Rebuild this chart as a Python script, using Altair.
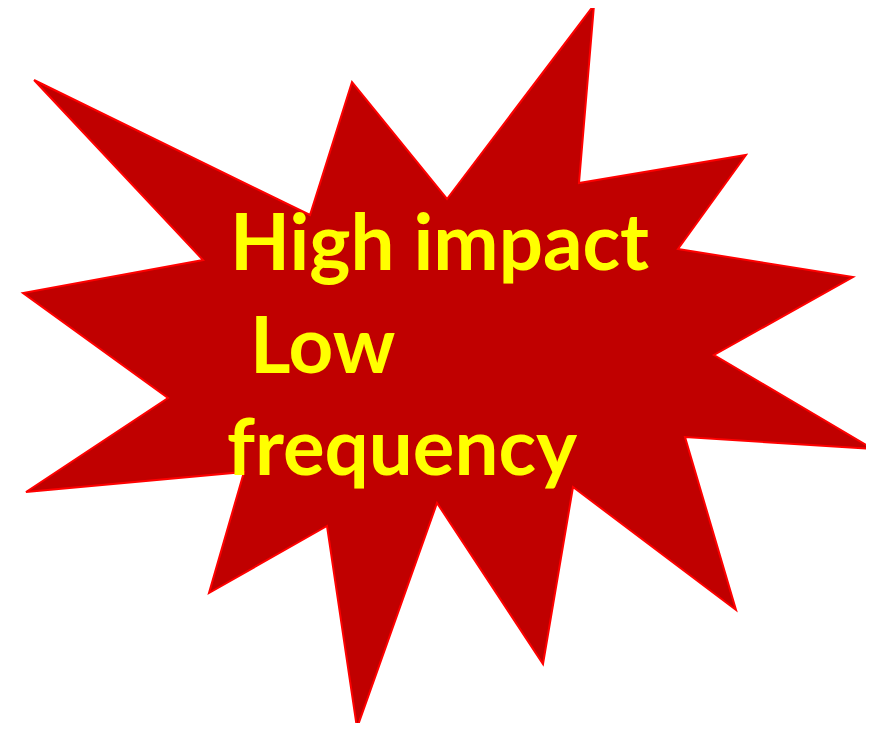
import altair as alt
import pandas as pd

# Starburst outline vertices (image pixel coordinates), clockwise
star_x = [34, 310, 352, 447, 594, 579, 746, 678, 853, 714, 873, 685, 736, 573,
          543, 437, 357, 327, 209, 244, 26, 168, 23, 203, 34]
star_y = [80, 215, 82, 199, 5, 183, 155, 249, 277, 355, 449, 437, 610, 487,
          664, 503, 728, 526, 593, 472, 492, 398, 293, 260, 80]

lines = ["High impact", "Low", "frequency"]

df = pd.DataFrame({"x": star_x, "y": star_y, "i": list(range(len(star_x)))})

xs = alt.Scale(domain=[8, 866], nice=False, zero=False)
ys = alt.Scale(domain=[8, 723], nice=False, zero=False, reverse=True)

star = alt.Chart(df).mark_line(
    fill="#c00000", stroke="#ff0000", strokeWidth=2, clip=False, strokeJoin="miter"
).encode(
    x=alt.X("x:Q", scale=xs, axis=None),
    y=alt.Y("y:Q", scale=ys, axis=None),
    order="i:Q",
)

font = "Lato"
size = 78
txt_pos = [(222, 262), (242, 365), (219, 467)]
texts = []
for label, (px, py) in zip(lines, txt_pos):
    texts.append(
        alt.Chart(pd.DataFrame({"t": [label]})).mark_text(
            font=font, fontSize=size, fontWeight="bold", color="#ffff00",
            align="left", baseline="alphabetic"
        ).encode(x=alt.value(px), y=alt.value(py), text="t:N")
    )

chart = alt.layer(star, *texts).properties(
    width=858, height=715, padding=0, autosize=alt.AutoSizeParams(type="none")
).configure_view(stroke=None)

chart.save("out.html", embed_options={"renderer": "svg", "actions": False})
